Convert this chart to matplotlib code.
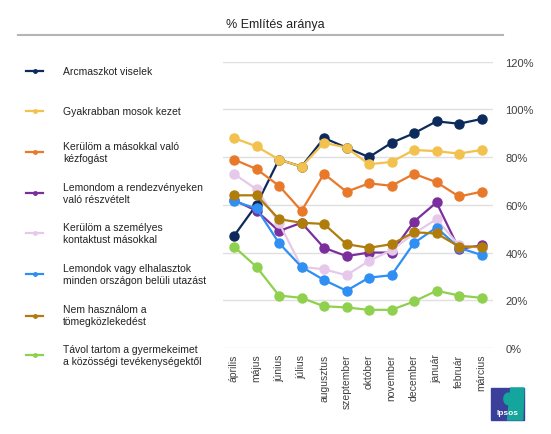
import matplotlib.pyplot as plt
from matplotlib.lines import Line2D
from matplotlib.patches import Rectangle, Polygon, Ellipse

plt.rcParams['font.family'] = ['Liberation Sans', 'DejaVu Sans']

months = ['április', 'május', 'június', 'július', 'augusztus', 'szeptember',
          'október', 'november', 'december', 'január', 'február', 'március']

labels = ['Arcmaszkot viselek',
          'Gyakrabban mosok kezet',
          'Kerülöm a másokkal való\nkézfogást',
          'Lemondom a rendezvényeken\nvaló részvételt',
          'Kerülöm a személyes\nkontaktust másokkal',
          'Lemondok vagy elhalasztok\nminden országon belüli utazást',
          'Nem használom a\ntömegközlekedést',
          'Távol tartom a gyermekeimet\na közösségi tevékenységektől']

maszk = [47, 60, 79, 76, 88, 84, 80, 86, 90, 95, 94, 96]
kezmosas = [88, 84.5, 79, 76, 86, 84, 77, 78, 83, 82.5, 81.5, 83]
kezfogas = [79, 75, 68, 57.5, 73, 65.5, 69, 68, 73, 69.5, 63.5, 65.5]
rendezveny = [62, 57.5, 49, 52.5, 42, 38.5, 40, 40, 53, 61, 41.5, 43]
kontaktus = [73, 66.5, 52.5, 34, 33, 30.5, 36.5, 41, 48, 54, 43, 42]
utazas = [61.5, 58.5, 44, 34, 28.5, 24, 29.5, 30.5, 44, 50.5, 42, 39]
tomeg = [64, 64, 54, 52.5, 52, 43.5, 42, 43.5, 48.5, 48, 42.5, 42.5]
gyerek = [42.5, 34, 22, 21, 17.5, 17, 16, 16, 19.5, 24, 22, 21]

series = [maszk, kezmosas, kezfogas, rendezveny, kontaktus, utazas, tomeg, gyerek]
colors = ['#0d2a5c', '#f2c14e', '#e8792b', '#7b2f9c', '#e6c9ea', '#2f8ff2',
          '#b07c0c', '#8fd04e']

fig = plt.figure(figsize=(5.51, 4.35), dpi=100)
W, H = 551, 435
ax = fig.add_axes([222.75 / W, 1 - 349 / H, 270 / W, 286.3 / H])

x = list(range(len(months)))
for vals, c in zip(series, colors):
    ax.plot(x, vals, color=c, lw=1.6, marker='o', ms=6.5, mec=c, mfc=c)

ax.set_xlim(-0.5, 11.5)
ax.set_ylim(0, 120)
ax.set_yticks(range(0, 121, 20))
ax.set_yticklabels([f'{v}%' for v in range(0, 121, 20)])
ax.yaxis.tick_right()
ax.grid(axis='y', color='#e0e0e0', lw=1)
ax.set_axisbelow(True)
for s in ax.spines.values():
    s.set_visible(False)
ax.tick_params(axis='y', length=0, pad=9, labelsize=8, labelcolor='#404040')
ax.set_xticks(x)
ax.set_xticklabels(months, rotation=90)
ax.tick_params(axis='x', length=0, pad=4, labelsize=7.5, labelcolor='#404040')

# title and rule
fig.text(275 / W, 1 - 25 / H, '% Említés aránya', ha='center', va='center',
         fontsize=9, color='#222222')
fig.add_artist(Line2D([18 / W, 503 / W], [1 - 36 / H, 1 - 36 / H],
                      color='#b5b5b5', lw=1.5))

# legend on the left
ys = [72, 112, 153, 194, 234, 275, 316.5, 356]
for lab, c, y in zip(labels, colors, ys):
    fy = 1 - y / H
    fig.add_artist(Line2D([26 / W, 43 / W], [fy, fy], color=c, lw=1.6))
    fig.add_artist(Line2D([34.5 / W], [fy], color=c, marker='o', ms=2.5))
    fig.text(63 / W, fy, lab, ha='left', va='center', fontsize=7.5,
             color='#222222', linespacing=1.25)

# Ipsos logo
lx0, ly0, lw_, lh = 491 / W, 1 - 421 / H, 33 / W, 32 / H
fig.add_artist(Rectangle((lx0, ly0), lw_, lh, color='#3a3f9a'))
fig.add_artist(Polygon([(lx0 + lw_ * 0.6, ly0 + lh), (lx0 + lw_, ly0 + lh),
                        (lx0 + lw_ * 0.96, ly0), (lx0 + lw_ * 0.5, ly0)],
                       closed=True, color='#14a59c'))
fig.add_artist(Ellipse((lx0 + lw_ * 0.52, ly0 + lh * 0.66), lw_ * 0.26, lh * 0.36,
                       color='#14a59c'))
fig.text(lx0 + lw_ / 2, ly0 + lh * 0.22, 'Ipsos', ha='center', va='center',
         fontsize=6, color='white', fontweight='bold')

fig.savefig('out.png', dpi=100)
